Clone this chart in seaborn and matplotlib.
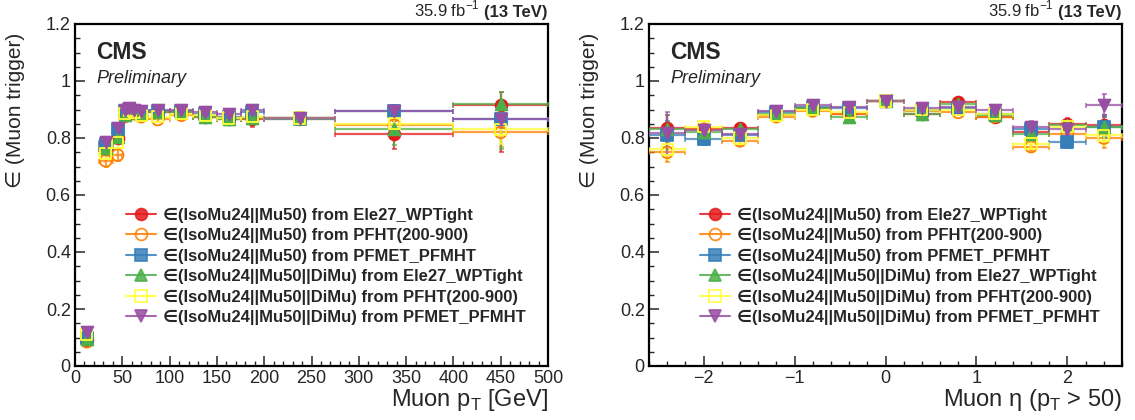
import matplotlib
matplotlib.use("Agg")
import matplotlib.pyplot as plt
from matplotlib.lines import Line2D
from matplotlib.ticker import MultipleLocator, FuncFormatter
import numpy as np
import pandas as pd
import seaborn as sns

# ---------------- data ----------------
series_labels = [
    "\u2208(IsoMu24||Mu50) from Ele27_WPTight",
    "\u2208(IsoMu24||Mu50) from PFHT(200-900)",
    "\u2208(IsoMu24||Mu50) from PFMET_PFMHT",
    "\u2208(IsoMu24||Mu50||DiMu) from Ele27_WPTight",
    "\u2208(IsoMu24||Mu50||DiMu) from PFHT(200-900)",
    "\u2208(IsoMu24||Mu50||DiMu) from PFMET_PFMHT",
]
series_colors = ["#e41a1c", "#ff7f00", "#377eb8", "#4daf4a", "#ffff33", "#984ea3"]
series_markers = ["o", "o", "s", "^", "s", "v"]
series_filled = [True, False, True, True, False, True]

# muon pT bins (centre, half width) in GeV
pt_center = [12.5, 32.5, 45, 52.5, 57.5, 62.5, 70, 87.5, 112.5, 137.5, 162.5, 187.5, 237.5, 337.5, 450]
pt_halfw = [2.5, 7.5, 5, 2.5, 2.5, 2.5, 5, 12.5, 12.5, 12.5, 12.5, 12.5, 37.5, 62.5, 50]

pt_eff_ele27 = [0.09, 0.76, 0.80, 0.88, 0.89, 0.89, 0.88, 0.89, 0.89, 0.875, 0.865, 0.865, 0.87, 0.815, 0.915]
pt_eff_pfht = [0.085, 0.72, 0.74, 0.875, 0.89, 0.885, 0.875, 0.865, 0.88, 0.875, 0.87, 0.87, 0.865, 0.845, 0.82]
pt_eff_pfmet = [0.10, 0.78, 0.83, 0.895, 0.90, 0.895, 0.89, 0.895, 0.895, 0.885, 0.875, 0.89, 0.865, 0.895, 0.865]
pt_eff_dimu_ele27 = [0.095, 0.765, 0.805, 0.88, 0.89, 0.89, 0.885, 0.89, 0.89, 0.875, 0.865, 0.87, 0.87, 0.83, 0.92]
pt_eff_dimu_pfht = [0.11, 0.745, 0.785, 0.885, 0.895, 0.89, 0.88, 0.875, 0.885, 0.88, 0.87, 0.875, 0.87, 0.85, 0.83]
pt_eff_dimu_pfmet = [0.12, 0.785, 0.835, 0.90, 0.905, 0.90, 0.895, 0.90, 0.90, 0.89, 0.885, 0.90, 0.87, 0.895, 0.865]

pt_err_lo_ele27 = [0.01, 0.02, 0.02, 0.01, 0.01, 0.01, 0.01, 0.01, 0.01, 0.01, 0.015, 0.025, 0.02, 0.055, 0.165]
pt_err_hi_ele27 = [0.01, 0.02, 0.02, 0.01, 0.01, 0.01, 0.01, 0.01, 0.01, 0.01, 0.015, 0.02, 0.02, 0.045, 0.045]
pt_err_lo_pfht = [0.01, 0.02, 0.02, 0.01, 0.01, 0.01, 0.01, 0.01, 0.01, 0.01, 0.01, 0.015, 0.015, 0.03, 0.05]
pt_err_hi_pfht = [0.01, 0.02, 0.02, 0.01, 0.01, 0.01, 0.01, 0.01, 0.01, 0.01, 0.01, 0.015, 0.015, 0.03, 0.04]
pt_err_lo_pfmet = [0.01, 0.015, 0.015, 0.01, 0.01, 0.01, 0.01, 0.01, 0.01, 0.01, 0.01, 0.015, 0.015, 0.02, 0.03]
pt_err_hi_pfmet = [0.01, 0.015, 0.015, 0.01, 0.01, 0.01, 0.01, 0.01, 0.01, 0.01, 0.01, 0.015, 0.015, 0.02, 0.03]
pt_err_lo_dimu_ele27 = [0.01, 0.02, 0.02, 0.01, 0.01, 0.01, 0.01, 0.01, 0.01, 0.01, 0.015, 0.02, 0.02, 0.055, 0.16]
pt_err_hi_dimu_ele27 = [0.01, 0.02, 0.02, 0.01, 0.01, 0.01, 0.01, 0.01, 0.01, 0.01, 0.015, 0.02, 0.02, 0.045, 0.04]
pt_err_lo_dimu_pfht = [0.01, 0.02, 0.02, 0.01, 0.01, 0.01, 0.01, 0.01, 0.01, 0.01, 0.01, 0.015, 0.015, 0.03, 0.05]
pt_err_hi_dimu_pfht = [0.01, 0.02, 0.02, 0.01, 0.01, 0.01, 0.01, 0.01, 0.01, 0.01, 0.01, 0.015, 0.015, 0.03, 0.04]
pt_err_lo_dimu_pfmet = [0.01, 0.015, 0.015, 0.01, 0.01, 0.01, 0.01, 0.01, 0.01, 0.01, 0.01, 0.015, 0.015, 0.02, 0.03]
pt_err_hi_dimu_pfmet = [0.01, 0.015, 0.015, 0.01, 0.01, 0.01, 0.01, 0.01, 0.01, 0.01, 0.01, 0.015, 0.015, 0.02, 0.03]

# muon eta bins (centre, half width)
eta_center = [-2.4, -2.0, -1.6, -1.2, -0.8, -0.4, 0.0, 0.4, 0.8, 1.2, 1.6, 2.0, 2.4]
eta_halfw = [0.2, 0.2, 0.2, 0.2, 0.2, 0.2, 0.2, 0.2, 0.2, 0.2, 0.2, 0.2, 0.2]

eta_eff_ele27 = [0.835, 0.83, 0.835, 0.88, 0.905, 0.885, 0.93, 0.885, 0.925, 0.875, 0.82, 0.85, 0.845]
eta_eff_pfht = [0.75, 0.83, 0.79, 0.875, 0.895, 0.885, 0.93, 0.895, 0.89, 0.875, 0.77, 0.815, 0.80]
eta_eff_pfmet = [0.81, 0.795, 0.81, 0.89, 0.91, 0.905, 0.93, 0.90, 0.905, 0.885, 0.83, 0.785, 0.84]
eta_eff_dimu_ele27 = [0.83, 0.82, 0.83, 0.885, 0.905, 0.875, 0.93, 0.885, 0.92, 0.88, 0.815, 0.845, 0.84]
eta_eff_dimu_pfht = [0.76, 0.84, 0.80, 0.88, 0.90, 0.89, 0.93, 0.90, 0.90, 0.885, 0.78, 0.84, 0.81]
eta_eff_dimu_pfmet = [0.817, 0.827, 0.815, 0.895, 0.915, 0.91, 0.93, 0.905, 0.91, 0.90, 0.84, 0.83, 0.915]

eta_err_ele27 = [0.045, 0.02, 0.015, 0.01, 0.01, 0.01, 0.008, 0.01, 0.01, 0.01, 0.015, 0.02, 0.035]
eta_err_pfht = [0.035, 0.02, 0.015, 0.01, 0.01, 0.01, 0.008, 0.01, 0.01, 0.01, 0.015, 0.02, 0.035]
eta_err_pfmet = [0.05, 0.02, 0.015, 0.01, 0.01, 0.01, 0.008, 0.01, 0.01, 0.01, 0.02, 0.02, 0.04]
eta_err_dimu_ele27 = [0.05, 0.02, 0.015, 0.01, 0.01, 0.01, 0.008, 0.01, 0.01, 0.01, 0.015, 0.02, 0.035]
eta_err_dimu_pfht = [0.035, 0.02, 0.015, 0.01, 0.01, 0.01, 0.008, 0.01, 0.01, 0.01, 0.015, 0.02, 0.035]
eta_err_dimu_pfmet = [0.075, 0.02, 0.015, 0.01, 0.01, 0.01, 0.008, 0.01, 0.01, 0.01, 0.02, 0.02, 0.04]

pt_eff = [pt_eff_ele27, pt_eff_pfht, pt_eff_pfmet, pt_eff_dimu_ele27, pt_eff_dimu_pfht, pt_eff_dimu_pfmet]
pt_err_lo = [pt_err_lo_ele27, pt_err_lo_pfht, pt_err_lo_pfmet, pt_err_lo_dimu_ele27, pt_err_lo_dimu_pfht, pt_err_lo_dimu_pfmet]
pt_err_hi = [pt_err_hi_ele27, pt_err_hi_pfht, pt_err_hi_pfmet, pt_err_hi_dimu_ele27, pt_err_hi_dimu_pfht, pt_err_hi_dimu_pfmet]
eta_eff = [eta_eff_ele27, eta_eff_pfht, eta_eff_pfmet, eta_eff_dimu_ele27, eta_eff_dimu_pfht, eta_eff_dimu_pfmet]
eta_err = [eta_err_ele27, eta_err_pfht, eta_err_pfmet, eta_err_dimu_ele27, eta_err_dimu_pfht, eta_err_dimu_pfmet]

# ---------------- style ----------------
sns.set_theme(style="ticks")
plt.rcParams["font.family"] = ["Liberation Sans", "DejaVu Sans"]
plt.rcParams["mathtext.fontset"] = "custom"
plt.rcParams["mathtext.rm"] = "Liberation Sans"
plt.rcParams["mathtext.bf"] = "Liberation Sans:bold"

fig = plt.figure(figsize=(11.35, 4.2), dpi=100)
W, H = 1135, 420
ax1 = fig.add_axes([75 / W, 54 / H, 473 / W, 342 / H])
ax2 = fig.add_axes([649 / W, 54 / H, 473 / W, 342 / H])


def draw_panel(ax, xc, xw, effs, elo, ehi):
    for i in range(6):
        col = series_colors[i]
        ax.errorbar(xc, effs[i], xerr=xw, yerr=[elo[i], ehi[i]], fmt="none",
                    ecolor=col, elinewidth=1.6, capsize=1.8, capthick=1.2,
                    alpha=0.75, zorder=2 + i)
        df = pd.DataFrame({"x": xc, "y": effs[i]})
        fc = col if series_filled[i] else "none"
        sns.scatterplot(data=df, x="x", y="y", ax=ax, marker=series_markers[i],
                        s=72 if series_markers[i] != "s" else 64,
                        facecolor=fc, edgecolor=col, linewidth=1.3,
                        zorder=10 + i, legend=False)
    ax.set_ylim(0, 1.2)
    ax.yaxis.set_major_locator(MultipleLocator(0.2))
    ax.yaxis.set_minor_locator(MultipleLocator(0.05))
    ax.yaxis.set_major_formatter(FuncFormatter(lambda v, p: "%g" % round(v, 2)))
    ax.tick_params(which="both", direction="in", top=False, right=False)
    ax.tick_params(which="major", length=7, width=1.1)
    ax.tick_params(which="minor", length=3.5, width=1.0)
    ax.tick_params(axis="both", labelsize=13, pad=3)
    for s in ax.spines.values():
        s.set_linewidth(1.6)
        s.set_color("black")
        s.set_visible(True)
    ax.set_ylabel("\u2208 (Muon trigger)", fontsize=15, loc="top")
    ax.yaxis.set_label_coords(-0.105, 0.975)
    ax.text(0.045, 0.95, "CMS", transform=ax.transAxes, fontsize=16.5,
            fontweight="bold", va="top", ha="left")
    ax.text(0.045, 0.865, "Preliminary", transform=ax.transAxes, fontsize=13,
            fontstyle="italic", va="top", ha="left")
    tev = ax.text(1.0, 1.012, "(13 TeV)", transform=ax.transAxes, fontsize=12,
                  fontweight="bold", va="bottom", ha="right")
    ax.annotate("35.9 fb$^{-1}$", xy=(0, 0), xycoords=tev, xytext=(-3.5, 0),
                textcoords="offset points", fontsize=12, va="bottom", ha="right")
    handles = []
    for i in range(6):
        col = series_colors[i]
        handles.append(Line2D([0], [0], color=col, alpha=0.85, lw=1.5,
                              marker=series_markers[i],
                              markersize=8.5 if series_markers[i] != "s" else 8,
                              markerfacecolor=col if series_filled[i] else "none",
                              markeredgecolor=col, markeredgewidth=1.3))
    ax.legend(handles, series_labels, loc="upper left", bbox_to_anchor=(0.09, 0.487),
              frameon=False, borderpad=0, handlelength=1.8, handletextpad=0.4,
              labelspacing=0.32, prop={"weight": "bold", "size": 12})


draw_panel(ax1, pt_center, pt_halfw, pt_eff, pt_err_lo, pt_err_hi)
ax1.set_xlim(0, 500)
ax1.xaxis.set_major_locator(MultipleLocator(50))
ax1.xaxis.set_minor_locator(MultipleLocator(10))
ax1.set_xlabel("Muon p$_{\\mathregular{T}}$ [GeV]", fontsize=17, loc="right")
ax1.xaxis.set_label_coords(1.0, -0.062)

draw_panel(ax2, eta_center, eta_halfw, eta_eff, eta_err, eta_err)
ax2.set_xlim(-2.6, 2.6)
ax2.xaxis.set_major_locator(MultipleLocator(1))
ax2.xaxis.set_minor_locator(MultipleLocator(0.2))
ax2.set_xlabel("Muon \u03b7 (p$_{\\mathregular{T}}$ > 50)", fontsize=17, loc="right")
ax2.xaxis.set_label_coords(1.0, -0.062)

fig.savefig("out.png", dpi=100)
